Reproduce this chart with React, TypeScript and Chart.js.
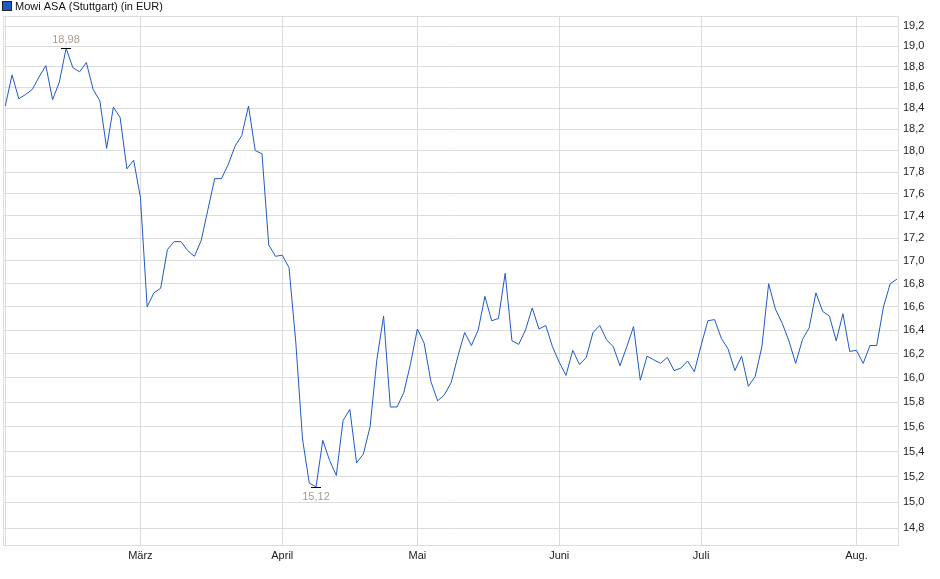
import { useEffect, useRef } from "react"
import { Chart, registerables } from "chart.js"

Chart.register(...registerables)

// daily closing prices, Stuttgart, EUR
const prices = [
  18.42, 18.72, 18.49, 18.53, 18.58, 18.7, 18.81, 18.48, 18.65, 18.98,
  18.79, 18.75, 18.84, 18.58, 18.47, 18.02, 18.41, 18.31, 17.83, 17.91,
  17.57, 16.6, 16.72, 16.76, 17.1, 17.17, 17.17, 17.09, 17.04, 17.18,
  17.46, 17.74, 17.74, 17.87, 18.04, 18.14, 18.42, 18.0, 17.97, 17.14,
  17.04, 17.05, 16.94, 16.3, 15.5, 15.15, 15.12, 15.49, 15.33, 15.21,
  15.65, 15.74, 15.31, 15.38, 15.6, 16.15, 16.52, 15.76, 15.76, 15.88,
  16.12, 16.41, 16.29, 15.97, 15.81, 15.86, 15.96, 16.18, 16.38, 16.27,
  16.4, 16.69, 16.48, 16.5, 16.89, 16.31, 16.28, 16.4, 16.59, 16.41,
  16.44, 16.26, 16.13, 16.02, 16.23, 16.11, 16.17, 16.38, 16.44, 16.32,
  16.26, 16.1, 16.26, 16.43, 15.98, 16.18, 16.15, 16.12, 16.17, 16.06,
  16.08, 16.14, 16.05, 16.27, 16.48, 16.49, 16.33, 16.24, 16.06, 16.18,
  15.93, 16.01, 16.26, 16.8, 16.58, 16.46, 16.31, 16.12, 16.32, 16.42,
  16.72, 16.56, 16.52, 16.31, 16.54, 16.22, 16.23, 16.12, 16.27, 16.27,
  16.6, 16.8, 16.84,
]

// first trading day of each month (index into prices)
const monthStarts = [0, 20, 41, 61, 82, 103, 126]
const monthLabels = ["", "März", "April", "Mai", "Juni", "Juli", "Aug."]

const yTicks = [
  14.8, 15.0, 15.2, 15.4, 15.6, 15.8, 16.0, 16.2, 16.4, 16.6, 16.8, 17.0,
  17.2, 17.4, 17.6, 17.8, 18.0, 18.2, 18.4, 18.6, 18.8, 19.0, 19.2,
]

const seriesName = "Mowi ASA (Stuttgart) (in EUR)"

const LINE = "#1f5ac4"
const GRID = "#dcdcdc"
const FONT = "'Liberation Sans', Arial, sans-serif"

const fmt = (v: number) => v.toFixed(2).replace(".", ",")

const extras = {
  id: "extras",
  beforeDatasetsDraw(chart: Chart) {
    const { ctx, chartArea: a } = chart
    ctx.save()
    ctx.strokeStyle = GRID
    ctx.lineWidth = 1
    ctx.strokeRect(a.left + 0.5, a.top + 0.5, a.right - a.left, a.bottom - a.top)
    ctx.restore()
  },
  afterDatasetsDraw(chart: Chart) {
    const { ctx } = chart
    const xs = chart.scales.x
    const ys = chart.scales.y
    const maxV = Math.max(...prices)
    const minV = Math.min(...prices)
    const maxI = prices.indexOf(maxV)
    const minI = prices.indexOf(minV)

    ctx.save()
    ctx.font = `11px ${FONT}`
    ctx.textAlign = "center"
    ctx.textBaseline = "middle"

    const mark = (i: number, v: number, dy: number) => {
      const px = Math.round(xs.getPixelForValue(i))
      const py = Math.round(ys.getPixelForValue(v))
      ctx.strokeStyle = "#000"
      ctx.lineWidth = 1
      ctx.beginPath()
      ctx.moveTo(px - 5, py + 0.5)
      ctx.lineTo(px + 5, py + 0.5)
      ctx.stroke()
      ctx.fillStyle = "#a99d8f"
      ctx.fillText(fmt(v), px, py + dy)
    }
    mark(maxI, maxV, -8)
    mark(minI, minV, 10)

    // legend
    ctx.fillStyle = LINE
    ctx.fillRect(3, 2, 8, 8)
    ctx.strokeStyle = "#222"
    ctx.strokeRect(2.5, 1.5, 9, 9)
    ctx.fillStyle = "#111"
    ctx.textAlign = "left"
    ctx.fillText(seriesName, 15, 7)
    ctx.restore()
  },
}

export default function App() {
  const chartRef = useRef<HTMLCanvasElement>(null)
  const chartInstance = useRef<Chart | null>(null)

  useEffect(() => {
    if (!chartRef.current) return
    if (chartInstance.current) chartInstance.current.destroy()
    const ctx = chartRef.current.getContext("2d")
    if (!ctx) return

    chartInstance.current = new Chart(ctx, {
      type: "line",
      data: {
        datasets: [
          {
            label: seriesName,
            data: prices.map((v, i) => ({ x: i, y: v })),
            borderColor: LINE,
            borderWidth: 1,
            pointRadius: 0,
            tension: 0,
            fill: false,
          },
        ],
      },
      options: {
        animation: false,
        responsive: false,
        layout: { padding: { left: 3, top: 16, right: 0, bottom: 0 } },
        plugins: {
          legend: { display: false },
          tooltip: { enabled: false },
        },
        scales: {
          x: {
            type: "linear",
            min: -0.34,
            max: 132.15,
            afterBuildTicks: (scale: any) => {
              scale.ticks = monthStarts.map((v) => ({ value: v }))
            },
            afterFit: (scale: any) => {
              scale.height = 34
            },
            grid: { color: GRID, drawTicks: false },
            border: { display: true, color: GRID },
            ticks: {
              autoSkip: false,
              maxRotation: 0,
              padding: 4,
              color: "#222",
              font: { family: FONT, size: 11 },
              callback: (v: any) => monthLabels[monthStarts.indexOf(Number(v))] ?? "",
            },
          },
          y: {
            type: "logarithmic",
            position: "right",
            min: 14.672,
            max: 19.3,
            afterBuildTicks: (scale: any) => {
              scale.ticks = yTicks.map((v) => ({ value: v }))
            },
            afterFit: (scale: any) => {
              scale.width = 42
            },
            grid: { color: GRID, drawTicks: false },
            border: { display: true, color: GRID },
            ticks: {
              padding: 5,
              color: "#222",
              font: { family: FONT, size: 11 },
              callback: (v: any) => Number(v).toFixed(1).replace(".", ","),
            },
          },
        },
      },
      plugins: [extras],
    })

    return () => {
      if (chartInstance.current) {
        chartInstance.current.destroy()
        chartInstance.current = null
      }
    }
  }, [])

  return (
    <div style={{ position: "absolute", left: 0, top: 0, width: 940, height: 579, background: "#fff" }}>
      <canvas ref={chartRef} width={940} height={579} style={{ width: 940, height: 579 }} />
    </div>
  )
}
